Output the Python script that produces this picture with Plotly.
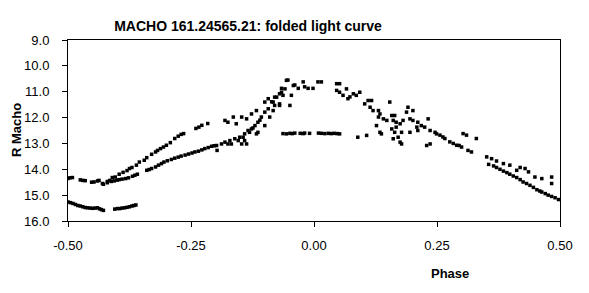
import plotly.graph_objects as go

# Faint minimum branch (left)
phase_min = [-0.500, -0.495, -0.490, -0.485, -0.480, -0.475, -0.470, -0.465, -0.460, -0.455,
             -0.450, -0.445, -0.440, -0.436, -0.432, -0.428, -0.405, -0.400, -0.395, -0.390,
             -0.385, -0.380, -0.375, -0.370, -0.366, -0.362]
mag_min = [15.27, 15.29, 15.32, 15.36, 15.40, 15.42, 15.45, 15.48, 15.49, 15.50,
           15.51, 15.50, 15.49, 15.53, 15.56, 15.59, 15.54, 15.52, 15.52, 15.50,
           15.49, 15.47, 15.45, 15.42, 15.40, 15.38]

# Upper rising branch (left)
phase_up = [-0.500, -0.496, -0.491, -0.475, -0.470, -0.465, -0.452, -0.447, -0.440, -0.437,
            -0.430, -0.420, -0.415, -0.410, -0.404, -0.396, -0.388, -0.380, -0.375, -0.370,
            -0.361, -0.355, -0.345, -0.340, -0.330, -0.322, -0.318, -0.312, -0.306, -0.300,
            -0.292, -0.283, -0.276, -0.270, -0.265, -0.240, -0.234, -0.228, -0.216]
mag_up = [14.36, 14.33, 14.32, 14.41, 14.43, 14.44, 14.50, 14.49, 14.45, 14.43,
          14.55, 14.47, 14.43, 14.32, 14.30, 14.19, 14.12, 14.05, 13.97, 13.93,
          13.84, 13.72, 13.65, 13.55, 13.42, 13.33, 13.27, 13.20, 13.14, 13.07,
          12.97, 12.81, 12.72, 12.65, 12.62, 12.42, 12.37, 12.30, 12.23]

# Lower rising branch (left)
phase_low = [-0.428, -0.420, -0.412, -0.406, -0.400, -0.396, -0.390, -0.383, -0.377, -0.369,
             -0.364, -0.359, -0.340, -0.335, -0.330, -0.322, -0.316, -0.310, -0.305, -0.298,
             -0.290, -0.283, -0.276, -0.270, -0.262, -0.255, -0.248, -0.242, -0.235, -0.228,
             -0.222, -0.215, -0.208, -0.203, -0.197]
mag_low = [14.58, 14.52, 14.47, 14.45, 14.42, 14.40, 14.38, 14.36, 14.33, 14.27,
           14.23, 14.19, 14.04, 14.01, 13.97, 13.91, 13.84, 13.78, 13.72, 13.67,
           13.62, 13.57, 13.53, 13.49, 13.45, 13.41, 13.37, 13.33, 13.30, 13.25,
           13.20, 13.16, 13.11, 13.09, 13.27]

# Steep rise towards maximum
phase_rise = [-0.198, -0.188, -0.181, -0.175, -0.171, -0.168, -0.161, -0.154, -0.151, -0.147,
              -0.144, -0.141, -0.141, -0.137, -0.134, -0.131, -0.127, -0.120, -0.117, -0.114,
              -0.114, -0.107, -0.100, -0.100, -0.093, -0.090, -0.083, -0.083, -0.076, -0.070,
              -0.066, -0.063, -0.059, -0.056, -0.049, -0.046, -0.042,
              -0.181, -0.175, -0.164, -0.158, -0.147, -0.137, -0.127, -0.117, -0.100, -0.093,
              -0.080, -0.070, -0.080, -0.070, -0.066, -0.053, -0.039, -0.032, -0.022, -0.019,
              -0.012, -0.002, 0.008, 0.015, -0.086, -0.124, -0.110]
mag_rise = [13.08, 13.02, 12.95, 13.02, 12.89, 13.02, 12.82, 12.89, 12.76, 13.02,
            12.76, 12.63, 12.89, 13.02, 12.50, 12.57, 12.44, 12.31, 12.63, 12.18,
            12.57, 11.98, 11.79, 12.31, 11.66, 11.98, 11.40, 11.73, 11.21, 11.47,
            11.02, 11.14, 10.89, 10.56, 11.53, 11.14, 10.76,
            12.11, 12.18, 11.98, 12.24, 11.98, 12.05, 11.86, 11.73, 11.40, 11.27,
            11.21, 11.08, 11.53, 11.53, 10.87, 10.55, 10.74, 10.87, 10.62, 10.81,
            10.87, 10.87, 10.62, 10.62, 11.39, 12.40, 12.10]

# Flat segment
phase_flat = [-0.063, -0.056, -0.049, -0.044, -0.039, -0.028, -0.022, -0.019, -0.009, 0.009,
              0.015, 0.022, 0.029, 0.035, 0.041, 0.047, 0.052]
mag_flat = [12.62, 12.63, 12.61, 12.62, 12.60, 12.61, 12.62, 12.60, 12.61, 12.60,
            12.61, 12.62, 12.61, 12.62, 12.61, 12.62, 12.63]

# Decline after maximum
phase_dec = [0.046, 0.052, 0.046, 0.052, 0.059, 0.066, 0.069, 0.073, 0.080, 0.086,
             0.093, 0.103, 0.110, 0.117, 0.114, 0.120, 0.131, 0.134, 0.131, 0.141,
             0.148, 0.154, 0.158, 0.164, 0.161, 0.167, 0.175, 0.181, 0.191, 0.188,
             0.201, 0.195, 0.201, 0.211, 0.218, 0.225, 0.232, 0.236, 0.246, 0.249,
             0.127, 0.137, 0.134, 0.158, 0.167, 0.164, 0.178, 0.195, 0.211, 0.209,
             0.107, 0.089, 0.161, 0.175, 0.178, 0.236, 0.229, 0.171,
             0.256, 0.266, 0.276, 0.290, 0.300, 0.303, 0.310, 0.313, 0.320, 0.330,
             0.262, 0.283, 0.295]
mag_dec = [10.69, 10.69, 10.95, 11.02, 11.14, 10.89, 11.27, 11.20, 11.08, 11.14,
           11.02, 11.47, 11.34, 11.34, 11.60, 11.73, 11.73, 11.86, 11.98, 12.05,
           12.11, 11.40, 11.92, 11.92, 12.11, 12.18, 12.24, 12.11, 11.60, 11.79,
           11.73, 12.05, 12.11, 12.18, 12.31, 12.37, 12.05, 12.50, 12.57, 12.63,
           12.31, 12.63, 12.57, 12.44, 12.37, 12.57, 12.57, 12.57, 12.50, 12.37,
           12.69, 12.76, 12.82, 12.95, 13.02, 13.02, 13.08, 12.76,
           12.68, 12.81, 12.94, 13.07, 13.14, 12.62, 12.68, 13.27, 13.33, 12.81,
           12.75, 13.00, 13.08]

# Right tail, two tracks
phase_tail = [0.351, 0.361, 0.371, 0.385, 0.398, 0.412, 0.419, 0.429, 0.436, 0.449,
              0.463, 0.483, 0.483,
              0.355, 0.365, 0.371, 0.378, 0.385, 0.392, 0.398, 0.405, 0.412, 0.419,
              0.425, 0.432, 0.439, 0.446, 0.453, 0.459, 0.463, 0.470, 0.476, 0.483,
              0.490, 0.497]
mag_tail = [13.52, 13.59, 13.68, 13.78, 13.84, 14.04, 13.93, 13.97, 14.10, 14.30,
            14.36, 14.30, 14.55,
            13.81, 13.87, 13.93, 14.00, 14.07, 14.13, 14.19, 14.26, 14.32, 14.40,
            14.49, 14.55, 14.62, 14.70, 14.79, 14.84, 14.88, 14.94, 15.00, 15.05,
            15.10, 15.17]

phase = phase_min + phase_up + phase_low + phase_rise + phase_flat + phase_dec + phase_tail
mag = mag_min + mag_up + mag_low + mag_rise + mag_flat + mag_dec + mag_tail

x_ticks = [-0.5, -0.25, 0.0, 0.25, 0.5]
x_labels = ["-0.50", "-0.25", "0.00", "0.25", "0.50"]
y_ticks = [9, 10, 11, 12, 13, 14, 15, 16]
y_labels = ["9.0", "10.0", "11.0", "12.0", "13.0", "14.0", "15.0", "16.0"]

FONT = "Arial, Liberation Sans, sans-serif"

fig = go.Figure()
fig.add_trace(go.Scatter(
    x=phase, y=mag, mode="markers",
    marker=dict(symbol="square", size=3.5, color="black", line=dict(width=0)),
    showlegend=False,
))

fig.update_layout(
    width=589, height=293,
    margin=dict(l=68, r=29, t=40, b=72),
    paper_bgcolor="white", plot_bgcolor="white",
    font=dict(family=FONT, size=13, color="black"),
    title=dict(text="<b>MACHO 161.24565.21: folded light curve</b>",
               x=248 / 589, xanchor="center", xref="container",
               y=1 - 26 / 293, yanchor="middle", yref="container",
               font=dict(family=FONT, size=14, color="black")),
)

fig.update_xaxes(
    range=[-0.5, 0.5], tickvals=x_ticks, ticktext=x_labels,
    showgrid=False, zeroline=False,
    showline=True, linecolor="black", linewidth=1, mirror=True,
    ticks="outside", ticklen=5, tickcolor="black", tickwidth=1,
    ticklabelstandoff=7, tickfont=dict(size=13),
)
fig.update_yaxes(
    range=[16, 9], tickvals=y_ticks, ticktext=y_labels,
    showgrid=False, zeroline=False,
    showline=True, linecolor="black", linewidth=1, mirror=True,
    ticks="outside", ticklen=5, tickcolor="black", tickwidth=1,
    ticklabelstandoff=10, tickfont=dict(size=13),
)

fig.add_annotation(text="<b>Phase</b>", xref="paper", yref="paper",
                   x=(450 - 68) / 492, y=-(273 - 221) / 181,
                   showarrow=False, xanchor="center", yanchor="middle",
                   font=dict(family=FONT, size=13, color="black"))
fig.add_annotation(text="<b>R Macho</b>", xref="paper", yref="paper",
                   x=-(68 - 16) / 492, y=(221 - 130) / 181, textangle=-90,
                   showarrow=False, xanchor="center", yanchor="middle",
                   font=dict(family=FONT, size=13, color="black"))

fig.write_html("out.html")
